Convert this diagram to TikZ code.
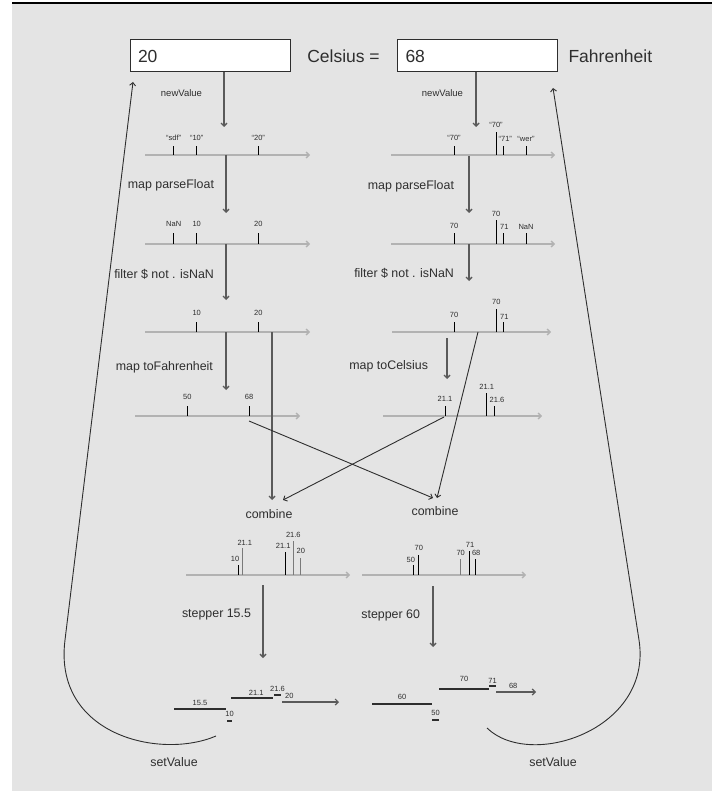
\documentclass[tikz,border=0pt]{standalone}
\usepackage{fontspec}
\usetikzlibrary{arrows.meta}
\setmainfont{Liberation Sans}
\definecolor{bg}{HTML}{E4E4E4}
\definecolor{axisgray}{HTML}{B2B2B2}
\definecolor{flowgray}{HTML}{5A5A5A}
\definecolor{ink}{HTML}{2E2E2E}
\definecolor{tickgray}{HTML}{7A7A7A}

\begin{document}
\begin{tikzpicture}[>={Straight Barb[length=3pt,width=6pt]}, x=1pt, y=-1pt,
	box/.style={draw=ink, fill=white, line width=1pt, minimum height=32pt, text width=144pt, inner xsep=8pt, align=left, text=ink, font=\fontsize{17.5}{20}\selectfont},
	big/.style={text=ink, font=\fontsize{17.5}{20}\selectfont},
	op/.style={text=ink, font=\fontsize{12.4}{14}\selectfont},
	smalltxt/.style={text=ink, font=\fontsize{9.5}{11}\selectfont},
	val/.style={text=ink, font=\fontsize{7.5}{9}\selectfont, inner sep=1pt},
	axis/.style={->, draw=axisgray, line width=1.3pt},
	tick/.style={draw=black, line width=1pt},
	gtick/.style={draw=tickgray, line width=1pt},
	flow/.style={->, draw=flowgray, line width=1.4pt},
	link/.style={->, draw=ink, line width=0.9pt},
	stepline/.style={draw=ink, line width=1.1pt},
	]
	\fill[bg] (12,3) rectangle (712,791);
	\draw[line width=1.2pt] (12,3) -- (712,3);
	\useasboundingbox (0,0) rectangle (712,791);

	% inputs
	\path
	(210,56) node[box] (cel) {20}
	(343.5,56) node[big] (celtxt) {Celsius =}
	(477.5,56) node[box] (fah) {68}
	(565,56) node[big,anchor=west] (fahtxt) {Fahrenheit}
	;

	% named ends of the flows
	\path
	(224,127) coordinate (cNew)
	(226,155) coordinate (cRaw)   (226,213) coordinate (cParsed)
	(226,244) coordinate (cNum)   (226,300) coordinate (cKept)
	(226,332) coordinate (cOk)    (226,390) coordinate (cConv)
	(272,332) coordinate (cPass)  (249,421) coordinate (cF68)
	(476,127) coordinate (fNew)
	(469,156) coordinate (fRaw)   (469,213) coordinate (fParsed)
	(469,244) coordinate (fNum)   (469,281) coordinate (fKept)
	(447,338) coordinate (fOk)    (447,379) coordinate (fConv)
	(478,332) coordinate (fPass)  (444,417) coordinate (fC21)
	(272,500) coordinate (inL1)   (283,500) coordinate (inL2)
	(433,498) coordinate (inR1)   (437,498) coordinate (inR2)
	(263,585) coordinate (sL0)    (263,658) coordinate (sL1)
	(433,586) coordinate (sR0)    (433,647) coordinate (sR1)
	(216,736) coordinate (setL0)  (133,82) coordinate (setL1)
	(487,728) coordinate (setR0)  (553,88) coordinate (setR1)
	;

	% Celsius stream
	\draw[axis] (145,155) -- (310,155);
	\draw[tick] (173.7,155) -- (173.7,146) node[val,above=4pt]{``sdf''};
	\draw[tick] (196.7,155) -- (196.7,146) node[val,above=4pt]{``10''};
	\draw[tick] (258.3,155) -- (258.3,146) node[val,above=4pt]{``20''};
	\draw[axis] (145,244) -- (310,244);
	\draw[tick] (173.7,244) -- (173.7,233) node[val,above=4.5pt]{NaN};
	\draw[tick] (196.7,244) -- (196.7,233) node[val,above=4.5pt]{10};
	\draw[tick] (258.3,244) -- (258.3,233) node[val,above=4.5pt]{20};
	\draw[axis] (145,332) -- (310,332);
	\draw[tick] (196.7,332) -- (196.7,322) node[val,above=4.5pt]{10};
	\draw[tick] (258.3,332) -- (258.3,322) node[val,above=4.5pt]{20};
	\draw[axis] (135,416) -- (300,416);
	\draw[tick] (187.3,416) -- (187.3,406) node[val,above=4.5pt]{50};
	\draw[tick] (249,416) -- (249,406) node[val,above=4.5pt]{68};

	\draw[flow] (cel.south -| cNew) -- (cNew) node[smalltxt,pos=.38,left=18pt]{newValue};
	\draw[flow] (cRaw) -- (cParsed) node[op,pos=.53,left=8pt]{map parseFloat};
	\draw[flow] (cNum) -- (cKept) node[op,pos=.54,left=8pt]{filter \$ not . isNaN};
	\draw[flow] (cOk) -- (cConv) node[op,pos=.6,left=9pt]{map toFahrenheit};

	% Fahrenheit stream
	\draw[axis] (391,155) -- (555,155);
	\draw[tick] (454,155) -- (454,145.7) node[val,above=3.5pt]{``70''};
	\draw[tick] (496,155) -- (496,132) node[val,above=2.5pt]{``70''};
	\draw[tick] (503.3,155) -- (503.3,145.7) node[val,above=3pt,xshift=2pt]{``71''};
	\draw[tick] (526,155) -- (526,145.7) node[val,above=3pt]{``wer''};
	\draw[axis] (391,244) -- (555,244);
	\draw[tick] (454,244) -- (454,233) node[val,above=2.5pt]{70};
	\draw[tick] (496,244) -- (496,220) node[val,above=2pt]{70};
	\draw[tick] (503.3,244) -- (503.3,233) node[val,above=1.5pt,xshift=1pt]{71};
	\draw[tick] (526,244) -- (526,233) node[val,above=1.5pt]{NaN};
	\draw[axis] (392,332) -- (551,332);
	\draw[tick] (454,332) -- (454,322.3) node[val,above=3.5pt]{70};
	\draw[tick] (496.3,332) -- (496.3,309.3) node[val,above=3pt]{70};
	\draw[tick] (503.3,332) -- (503.3,322.3) node[val,above=1.5pt,xshift=1pt]{71};
	\draw[axis] (383,416) -- (542,416);
	\draw[tick] (445,416) -- (445,406) node[val,above=3pt]{21.1};
	\draw[tick] (486.7,416) -- (486.7,392.7) node[val,above=2pt]{21.1};
	\draw[tick] (494,416) -- (494,406) node[val,above=1.5pt,xshift=3pt]{21.6};

	\draw[flow] (fah.south -| fNew) -- (fNew) node[smalltxt,pos=.38,left=9pt]{newValue};
	\draw[flow] (fRaw) -- (fParsed) node[op,pos=.53,left=11pt]{map parseFloat};
	\draw[flow] (fNum) -- (fKept) node[op,pos=.8,left=11pt]{filter \$ not . isNaN};
	\draw[flow] (fOk) -- (fConv) node[op,pos=.7,left=15pt]{map toCelsius};

	% crossing into combine
	\draw[flow] (cPass) -- (inL1);
	\draw[link] (fC21) -- (inL2);
	\draw[link] (cF68) -- (inR1);
	\draw[link] (fPass) -- (inR2);
	\path
	(269,514) node[op] (combL) {combine}
	(435,511) node[op] (combR) {combine}
	;

	% combined streams
	\draw[axis] (186,575) -- (350,575);
	\draw[tick] (238,575) -- (238,565) node[val,above=2pt,xshift=-3pt]{10};
	\draw[gtick] (242.3,575) -- (242.3,548.3) node[val,above=1.5pt,xshift=2.5pt]{21.1};
	\draw[tick] (285.7,575) -- (285.7,551.7) node[val,above=1.5pt,xshift=-2.5pt]{21.1};
	\draw[gtick] (293.3,575) -- (293.3,541) node[val,above=1.5pt]{21.6};
	\draw[gtick] (300.3,575) -- (300.3,557.7) node[val,above=3pt,xshift=0.5pt]{20};
	\draw[axis] (362,575) -- (526,575);
	\draw[tick] (413.3,575) -- (413.3,565) node[val,above=0.5pt,xshift=-2.5pt]{50};
	\draw[tick] (418.3,575) -- (418.3,555) node[val,above=3pt,xshift=0.5pt]{70};
	\draw[gtick] (460.7,575) -- (460.7,559) node[val,above=2pt]{70};
	\draw[tick] (469,575) -- (469,551) node[val,above=2pt,xshift=1pt]{71};
	\draw[tick] (475.7,575) -- (475.7,559) node[val,above=2pt,xshift=0.5pt]{68};

	\draw[flow] (sL0) -- (sL1) node[op,pos=.41,left=8pt]{stepper 15.5};
	\draw[flow] (sR0) -- (sR1) node[op,pos=.475,left=9pt]{stepper 60};

	% stepped outputs
	\draw[stepline] (174,709) -- (226,709) node[val,midway,above=1.7pt]{15.5};
	\draw[stepline] (227,721) -- (232,721) node[val,midway,above=2.7pt]{10};
	\draw[stepline] (231,698) -- (273,698) node[val,pos=.6,above=1.3pt]{21.1};
	\draw[stepline] (274,695) -- (281,695) node[val,midway,above=2.3pt]{21.6};
	\draw[flow,line width=1.2pt] (282,702) -- (339,702) node[val,pos=0,anchor=south west,xshift=1.5pt,yshift=2pt]{20};
	\draw[stepline] (372,704) -- (432,704) node[val,midway,above=3.3pt]{60};
	\draw[stepline] (432,720) -- (439,720) node[val,midway,above=2.7pt]{50};
	\draw[stepline] (439,689) -- (489,689) node[val,midway,above=6pt]{70};
	\draw[stepline] (489,686) -- (496,686) node[val,midway,above=1.3pt]{71};
	\draw[flow,line width=1.2pt] (496,692) -- (536,692) node[val,pos=.43,above=2pt]{68};

	% feeding back
	\draw[link] (setL0) .. controls (160,760) and (53,735) .. (65,640) -- (setL1);
	\draw[link] (setR0) .. controls (530,770) and (653,730) .. (639,640) -- (setR1);
	\path
	(174,762) node[op] (setL) {setValue}
	(553,762) node[op] (setR) {setValue}
	;
\end{tikzpicture}
\end{document}
